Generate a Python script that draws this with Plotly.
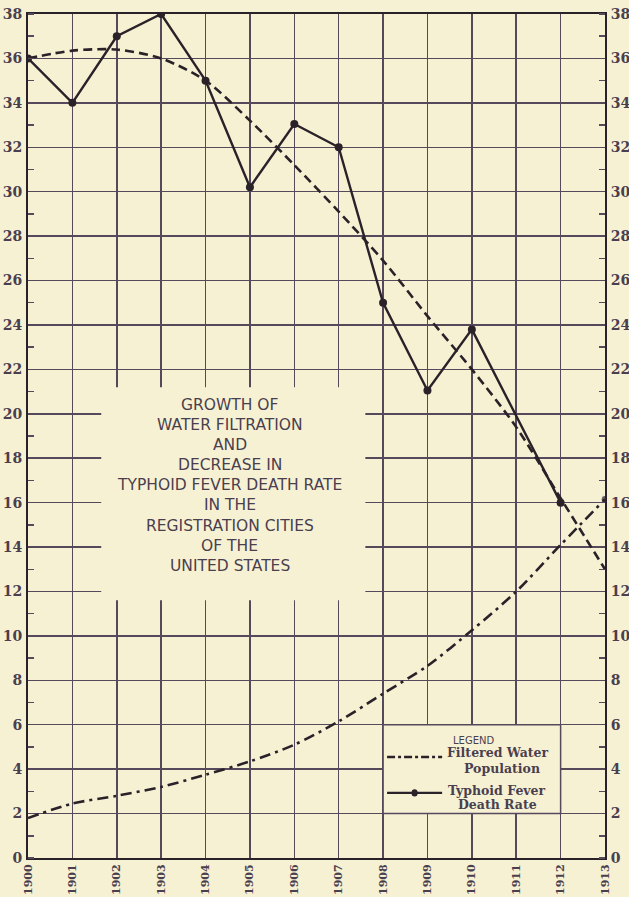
import plotly.graph_objects as go

# ---------------- data ----------------
years = list(range(1900, 1914))
year_labels = [str(y) for y in years]
typhoid_rate = [36.0, 34.0, 37.0, 38.0, 35.0, 30.2, 33.05, 32.0, 25.0, 21.05, 23.8, None, 16.0, None]
typhoid_trend = [36.0, 36.35, 36.4, 36.0, 35.0, 33.2, 31.2, 29.1, 26.9, 24.4, 22.0, 19.4, 16.2, 13.0]
filtered_population = [1.8, 2.45, 2.8, 3.2, 3.75, 4.35, 5.1, 6.15, 7.4, 8.65, 10.25, 12.0, 14.1, 16.15]
y_ticks = list(range(0, 39, 2))
title_lines = ["GROWTH OF", "WATER FILTRATION", "AND", "DECREASE IN",
               "TYPHOID FEVER DEATH RATE", "IN THE", "REGISTRATION CITIES",
               "OF THE", "UNITED STATES"]

# ---------------- style ----------------
BG = "#f7f1d4"
GRID = "#56495c"
INK = "#2a2229"
TXT = "#4a3f4e"
SERIF = "DejaVu Serif"
SANS = "DejaVu Sans"

fig = go.Figure()

fig.add_trace(go.Scatter(
    x=years, y=typhoid_trend, mode="lines", line=dict(color=INK, width=2.6, dash="9px,5px", shape="spline", smoothing=0.8),
    showlegend=False, yaxis="y2", hoverinfo="skip"))
fig.add_trace(go.Scatter(
    x=years, y=filtered_population, mode="lines+markers",
    line=dict(color=INK, width=2.6, dash="11px,5px,3px,5px", shape="spline", smoothing=0.8),
    marker=dict(size=[0] * (len(years) - 1) + [8], color=INK),
    showlegend=False, name="Filtered Water Population"))
fig.add_trace(go.Scatter(
    x=years, y=typhoid_rate, mode="lines+markers", connectgaps=True,
    line=dict(color=INK, width=2.4), marker=dict(size=8, color=INK),
    showlegend=False, name="Typhoid Fever Death Rate"))

shapes = []
# title box (hides grid under the text)
shapes.append(dict(type="rect", xref="x", yref="y", x0=1901.65, x1=1907.6, y0=11.6, y1=21.2,
                   fillcolor=BG, line=dict(width=0), layer="between"))
# legend box
shapes.append(dict(type="rect", xref="x", yref="y", x0=1908, x1=1912, y0=2, y1=6,
                   fillcolor=BG, line=dict(color=GRID, width=1.5), layer="between"))
# legend samples
shapes.append(dict(type="line", xref="x", yref="y", x0=1908.09, x1=1909.33, y0=4.55, y1=4.55,
                   line=dict(color=INK, width=2.6, dash="8px,3px,3px,3px")))
shapes.append(dict(type="line", xref="x", yref="y", x0=1908.09, x1=1909.33, y0=2.93, y1=2.93,
                   line=dict(color=INK, width=2.4)))
shapes.append(dict(type="circle", xref="x", yref="y", x0=1908.64, x1=1908.78, y0=2.77, y1=3.09,
                   fillcolor=INK, line=dict(width=0)))

annotations = []
ty0 = 20.4
for i, t in enumerate(title_lines):
    annotations.append(dict(x=1904.55, y=ty0 - i * 0.905, xref="x", yref="y", text=t, showarrow=False,
                            font=dict(family=SANS, size=15.5, color=TXT), xanchor="center", yanchor="middle"))

LF = dict(family=SERIF, size=12.5, color=TXT, weight="bold")
annotations += [
    dict(x=1910.03, y=5.31, text="LEGEND", font=dict(family=SANS, size=10, color=TXT)),
    dict(x=1910.59, y=4.73, text="Filtered Water", font=LF),
    dict(x=1910.67, y=4.05, text="Population", font=LF),
    dict(x=1910.57, y=3.06, text="Typhoid Fever", font=LF),
    dict(x=1910.57, y=2.39, text="Death Rate", font=LF),
]
for a in annotations[len(title_lines):]:
    a.update(xref="x", yref="y", showarrow=False, xanchor="center", yanchor="middle")

yaxis_common = dict(
    range=[0, 38], tickmode="array", tickvals=y_ticks, ticktext=[str(v) for v in y_ticks],
    tickfont=dict(family=SERIF, size=14, color=TXT, weight="bold"),
    ticks="", zeroline=False, fixedrange=True, automargin=False, ticklabeloverflow="allow",
    minor=dict(ticks="inside", dtick=1, ticklen=6, tickcolor=GRID, tickwidth=1.5, showgrid=False),
)

fig.update_layout(
    width=629, height=897,
    margin=dict(l=28, r=24, t=14, b=39),
    paper_bgcolor=BG, plot_bgcolor=BG,
    showlegend=False,
    xaxis=dict(range=[1900, 1913], tickmode="array", tickvals=years, ticktext=year_labels,
               tickangle=-90, tickfont=dict(family=SERIF, size=11, color=TXT, weight="bold"),
               showgrid=True, gridcolor=GRID, gridwidth=1.5, zeroline=False, automargin=False,
               ticklabeloverflow="allow", fixedrange=True,
               showline=True, linecolor=INK, linewidth=2, mirror=True, ticks="", ticklabelstandoff=0),
    yaxis=dict(**yaxis_common, side="left", showgrid=True, gridcolor=GRID, gridwidth=1.5,
               showline=True, linecolor=INK, linewidth=2, mirror=True, ticklabelstandoff=1),
    yaxis2=dict(**yaxis_common, side="right", overlaying="y", showgrid=False, showline=True,
                linecolor=INK, linewidth=2, ticklabelstandoff=1),
    shapes=shapes,
    annotations=annotations,
)

# remove the default page margin so the figure fills the 629x897 window exactly
fig.write_html("out.html", config={"displayModeBar": False, "staticPlot": True},
               post_script="document.body.style.margin='0';document.body.style.overflow='hidden';")
